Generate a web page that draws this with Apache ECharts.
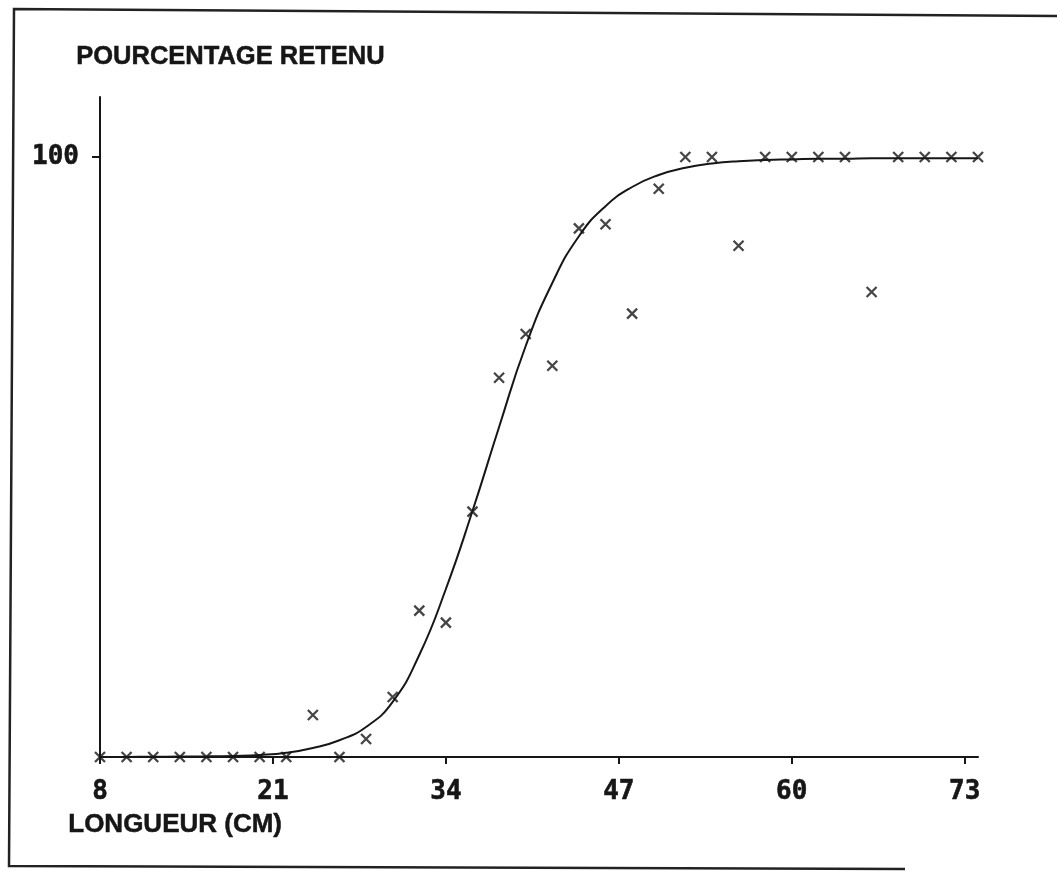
<!DOCTYPE html>
<html>
<head>
<meta charset="utf-8">
<style>
  html, body { margin: 0; padding: 0; background: #ffffff; }
  #chart { width: 1057px; height: 871px; }
</style>
<script src="https://cdn.jsdelivr.net/npm/echarts@6/dist/echarts.min.js"></script>
</head>
<body>
<div id="chart"></div>
<script>
// Length classes (cm)
const lengths = [8, 10, 12, 14, 16, 18, 20, 22, 24, 26, 28, 30, 32, 34, 36, 38, 40,
                 42, 44, 46, 48, 50, 52, 54, 56, 58, 60, 62, 64, 66, 68, 70, 72, 74];

// Observed percentage retained per length class
const observed = [0, 0, 0, 0, 0, 0, 0, 0, 7, 0, 3, 10, 24.4, 22.4, 40.9, 63.2, 70.5,
                  65.2, 88.1, 88.8, 73.9, 94.7, 100, 100, 85.2, 100, 100, 100, 100, 77.5, 100, 100, 100, 100];

// Fitted selection curve, read at each length class
const fitted = [0, 0.02, 0.04, 0.07, 0.1, 0.18, 0.33, 0.7, 1.5, 2.8, 5.0, 9.2, 17.0, 28.0, 41.0, 55.0, 68.5,
                79.0, 86.8, 91.8, 95.0, 97.0, 98.2, 98.9, 99.3, 99.5, 99.6, 99.7, 99.7, 99.8, 99.8, 99.8, 99.8, 99.8];

// Axis tick labels
const xTicks = [8, 21, 34, 47, 60, 73];
const yTicks = [100];

const ink = '#161616';
const digitFont = '"DejaVu Sans Mono", "Liberation Mono", monospace';
const titleFont = '"Liberation Sans", Arial, sans-serif';

const chart = echarts.init(document.getElementById('chart'), null, { renderer: 'canvas' });

const digitLabel = {
  color: ink,
  fontFamily: digitFont,
  fontWeight: 'bold',
  fontSize: 26,
  textBorderColor: ink,
  textBorderWidth: 0.6
};

chart.setOption({
  backgroundColor: '#ffffff',
  animation: false,
  grid: { left: 100, right: 79, top: 97, bottom: 114 },
  xAxis: {
    type: 'value',
    min: 8,
    max: 74,
    axisLine: { show: true, lineStyle: { color: ink, width: 2 } },
    axisTick: { show: true, customValues: xTicks, length: 7, lineStyle: { color: ink, width: 2 } },
    axisLabel: Object.assign({ customValues: xTicks, margin: 22 }, digitLabel),
    splitLine: { show: false }
  },
  yAxis: {
    type: 'value',
    min: 0,
    max: 110,
    axisLine: { show: true, lineStyle: { color: ink, width: 2 } },
    axisTick: { show: true, customValues: yTicks, length: 8, lineStyle: { color: ink, width: 2 } },
    axisLabel: Object.assign({ customValues: yTicks, margin: 21 }, digitLabel),
    splitLine: { show: false }
  },
  series: [
    {
      name: 'fitted',
      type: 'line',
      data: lengths.map((x, i) => [x, fitted[i]]),
      smooth: 0.5,
      showSymbol: false,
      lineStyle: { color: ink, width: 2 },
      z: 2
    },
    {
      name: 'observed',
      type: 'scatter',
      data: lengths.map((x, i) => [x, observed[i]]),
      symbol: 'path://M0,0L10,10M10,0L0,10',
      symbolSize: 10,
      itemStyle: { color: 'rgba(0,0,0,0)', borderColor: ink, borderWidth: 2.3 },
      z: 3
    }
  ],
  graphic: [
    // frame around the figure (open on the right)
    {
      type: 'polyline',
      shape: { points: [[1057, 16], [14, 9], [9, 866], [905, 869]] },
      style: { stroke: '#222', lineWidth: 2.5, fill: null }
    },
    {
      type: 'text',
      left: 76,
      top: 44,
      style: {
        text: 'POURCENTAGE RETENU',
        fill: ink,
        stroke: ink,
        lineWidth: 0.5,
        font: 'bold 25.5px ' + titleFont
      }
    },
    {
      type: 'text',
      left: 68,
      top: 812,
      style: {
        text: 'LONGUEUR (CM)',
        fill: ink,
        stroke: ink,
        lineWidth: 0.5,
        font: 'bold 26px ' + titleFont
      }
    }
  ]
});
</script>
</body>
</html>
